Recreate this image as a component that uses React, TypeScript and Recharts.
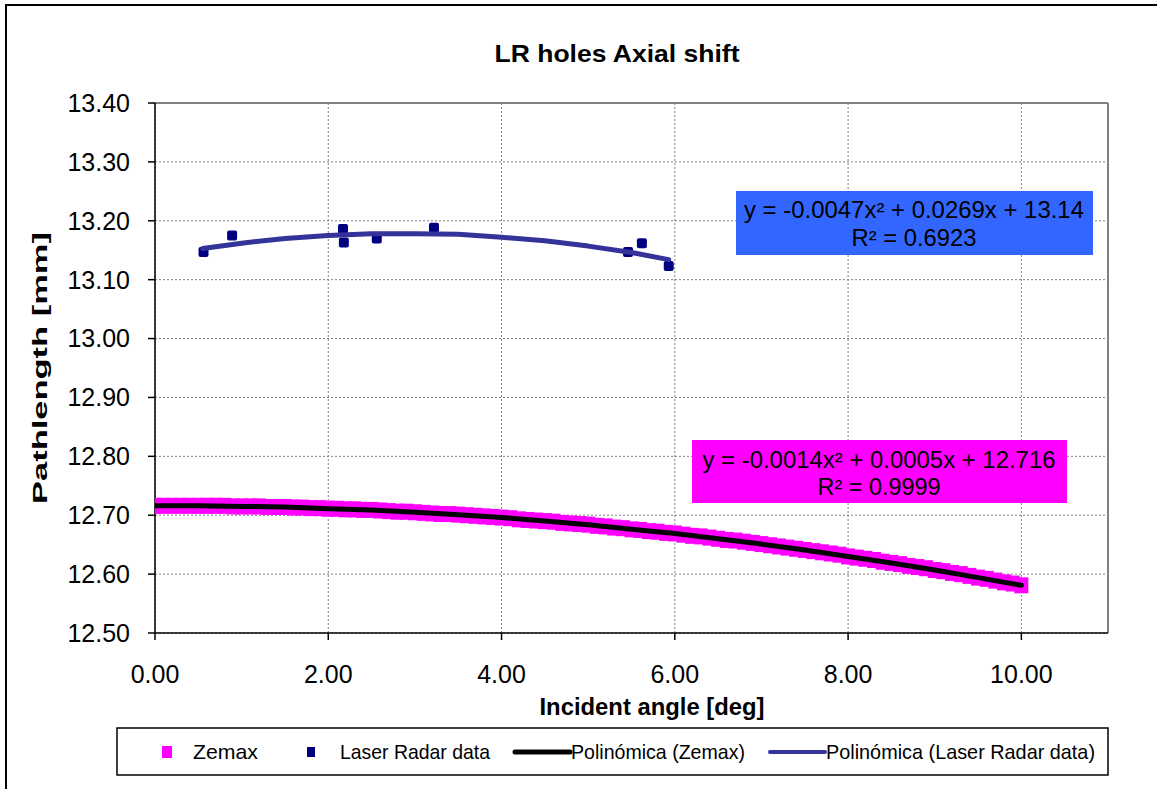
import {
  ComposedChart,
  Scatter,
  XAxis,
  YAxis,
  CartesianGrid,
  ReferenceLine,
} from "recharts";

const FONT = "'Liberation Sans', Arial, sans-serif";

// Zemax simulation, sampled every 0.1 deg from 0 to 10
const zemaxStep = 0.1;
const zemaxPath = [
  12.716, 12.716, 12.716, 12.716, 12.716, 12.716, 12.716, 12.716, 12.716, 12.715,
  12.715, 12.715, 12.715, 12.714, 12.714, 12.714, 12.713, 12.713, 12.712, 12.712,
  12.711, 12.711, 12.71, 12.71, 12.709, 12.709, 12.708, 12.707, 12.706, 12.706,
  12.705, 12.704, 12.703, 12.702, 12.702, 12.701, 12.7, 12.699, 12.698, 12.697,
  12.696, 12.695, 12.693, 12.692, 12.691, 12.69, 12.689, 12.687, 12.686, 12.685,
  12.684, 12.682, 12.681, 12.679, 12.678, 12.676, 12.675, 12.673, 12.672, 12.67,
  12.669, 12.667, 12.665, 12.664, 12.662, 12.66, 12.658, 12.657, 12.655, 12.653,
  12.651, 12.649, 12.647, 12.645, 12.643, 12.641, 12.639, 12.637, 12.635, 12.633,
  12.63, 12.628, 12.626, 12.624, 12.621, 12.619, 12.617, 12.614, 12.612, 12.61,
  12.607, 12.605, 12.602, 12.6, 12.597, 12.594, 12.592, 12.589, 12.586, 12.584,
  12.581,
];

// Laser Radar measurements
const laserAngle = [0.56, 0.89, 2.17, 2.18, 2.56, 3.22, 5.46, 5.62, 5.93];
const laserPath = [13.147, 13.175, 13.186, 13.163, 13.17, 13.188, 13.147, 13.162, 13.123];

// trend lines (polynomial fits as drawn)
const zemaxFitAngle = [0, 0.5, 1, 1.5, 2, 2.5, 3, 3.5, 4, 4.5, 5, 5.5, 6, 6.5, 7, 7.5, 8, 8.5, 9, 9.5, 10];
const zemaxFitPath = [
  12.716, 12.716, 12.715, 12.714, 12.711, 12.709, 12.705, 12.701, 12.696, 12.69, 12.684,
  12.676, 12.669, 12.66, 12.651, 12.641, 12.63, 12.619, 12.607, 12.594, 12.581,
];
const laserFitAngle = [0.55, 1, 1.5, 2, 2.5, 3, 3.5, 4, 4.5, 5, 5.5, 5.93];
const laserFitPath = [13.153, 13.162, 13.17, 13.175, 13.178, 13.178, 13.177, 13.172, 13.166, 13.157, 13.146, 13.134];

const xTicks = [0, 2, 4, 6, 8, 10];
const yTicks = [12.5, 12.6, 12.7, 12.8, 12.9, 13.0, 13.1, 13.2, 13.3, 13.4];

const zemaxData = zemaxPath.map((y, i) => ({ x: i * zemaxStep, y }));
const laserData = laserAngle.map((x, i) => ({ x, y: laserPath[i] }));
const zemaxFit = zemaxFitAngle.map((x, i) => ({ x, y: zemaxFitPath[i] }));
const laserFit = laserFitAngle.map((x, i) => ({ x, y: laserFitPath[i] }));

const W = 1157;
const H = 789;

// @ts-ignore
const ZemaxMarker = (props) => {
  const { cx, cy } = props;
  return <rect x={cx - 7} y={cy - 8} width={14} height={16} fill="#FF00FF" />;
};

// @ts-ignore
const LaserMarker = (props) => {
  const { cx, cy } = props;
  return <rect x={cx - 5} y={cy - 5} width={10} height={10} rx={2} fill="#000080" />;
};

const NoMarker = () => <g />;

export default function App() {
  return (
    <div style={{ position: "absolute", left: 0, top: 0, width: W, height: H, background: "#fff", overflow: "hidden" }}>
      <ComposedChart
        width={W}
        height={H}
        margin={{ top: 103, right: 49, bottom: 0, left: 0 }}
        style={{ fontFamily: FONT }}
      >
        <CartesianGrid stroke="#808080" strokeDasharray="2 2" />
        <XAxis
          type="number"
          dataKey="x"
          domain={[0, 11]}
          ticks={xTicks}
          tickFormatter={(v: number) => v.toFixed(2)}
          height={156}
          tickSize={7}
          tickMargin={25}
          stroke="#000"
          strokeWidth={1.5}
          tick={{ fontSize: 25, fill: "#000", fontFamily: FONT }}
          allowDataOverflow
        />
        <YAxis
          type="number"
          dataKey="y"
          domain={[12.5, 13.4]}
          ticks={yTicks}
          tickFormatter={(v: number) => v.toFixed(2)}
          width={155}
          tickSize={7}
          tickMargin={18}
          stroke="#000"
          strokeWidth={1.5}
          tick={{ fontSize: 25, fill: "#000", fontFamily: FONT }}
          allowDataOverflow
        />
        <ReferenceLine y={13.4} stroke="#808080" strokeWidth={2} />
        <ReferenceLine x={11} stroke="#808080" strokeWidth={2} />
        <Scatter data={zemaxData} name="Zemax" fill="#FF00FF" shape={ZemaxMarker} isAnimationActive={false} />
        <Scatter data={laserData} name="Laser Radar data" fill="#000080" shape={LaserMarker} isAnimationActive={false} />
        <Scatter
          data={zemaxFit}
          name="Polinómica (Zemax)"
          fill="#000"
          line={{ stroke: "#000", strokeWidth: 5, strokeLinecap: "round", strokeLinejoin: "round" }}
          lineType="joint"
          shape={NoMarker}
          isAnimationActive={false}
        />
        <Scatter
          data={laserFit}
          name="Polinómica (Laser Radar data)"
          fill="#333399"
          line={{ stroke: "#333399", strokeWidth: 5, strokeLinecap: "round", strokeLinejoin: "round" }}
          lineType="joint"
          shape={NoMarker}
          isAnimationActive={false}
        />
      </ComposedChart>

      <svg
        width={W}
        height={H}
        style={{ position: "absolute", left: 0, top: 0, pointerEvents: "none", fontFamily: FONT }}
      >
        <rect x={6} y={5} width={W + 20} height={H + 20} fill="none" stroke="#000" strokeWidth={2} />
        <text x={617} y={62} textAnchor="middle" fontSize={24} fontWeight="bold" textLength={245} lengthAdjust="spacingAndGlyphs">
          LR holes Axial shift
        </text>
        <text x={652} y={715} textAnchor="middle" fontSize={23} fontWeight="bold" textLength={225} lengthAdjust="spacingAndGlyphs">
          Incident angle [deg]
        </text>
        <text
          x={47}
          y={368}
          textAnchor="middle"
          fontSize={21}
          fontWeight="bold"
          textLength={272}
          lengthAdjust="spacingAndGlyphs"
          transform="rotate(-90 47 368)"
        >
          Pathlength [mm]
        </text>

        <rect x={736} y={191} width={357} height={64} fill="#3366FF" />
        <text x={914} y={218} textAnchor="middle" fontSize={23} textLength={340} lengthAdjust="spacingAndGlyphs">
          y = -0.0047x² + 0.0269x + 13.14
        </text>
        <text x={914} y={246} textAnchor="middle" fontSize={23} textLength={125} lengthAdjust="spacingAndGlyphs">
          R² = 0.6923
        </text>

        <rect x={692} y={440} width={375} height={63} fill="#FF00FF" />
        <text x={879} y={468} textAnchor="middle" fontSize={23} textLength={353} lengthAdjust="spacingAndGlyphs">
          y = -0.0014x² + 0.0005x + 12.716
        </text>
        <text x={879} y={495} textAnchor="middle" fontSize={23} textLength={123} lengthAdjust="spacingAndGlyphs">
          R² = 0.9999
        </text>

        <rect x={117} y={728} width={991} height={47} fill="#fff" stroke="#000" strokeWidth={1.5} />
        <rect x={162} y={746} width={10} height={12} fill="#FF00FF" />
        <text x={193} y={759} fontSize={21} textLength={65} lengthAdjust="spacingAndGlyphs">Zemax</text>
        <rect x={307} y={747} width={8} height={10} fill="#000080" />
        <text x={340} y={759} fontSize={21} textLength={150} lengthAdjust="spacingAndGlyphs">Laser Radar data</text>
        <line x1={515} y1={752} x2={570} y2={752} stroke="#000" strokeWidth={5} strokeLinecap="round" />
        <text x={571} y={759} fontSize={21} textLength={174} lengthAdjust="spacingAndGlyphs">Polinómica (Zemax)</text>
        <line x1={770} y1={752} x2={825} y2={752} stroke="#333399" strokeWidth={4} strokeLinecap="round" />
        <text x={826} y={759} fontSize={21} textLength={269} lengthAdjust="spacingAndGlyphs">Polinómica (Laser Radar data)</text>
      </svg>
    </div>
  );
}
